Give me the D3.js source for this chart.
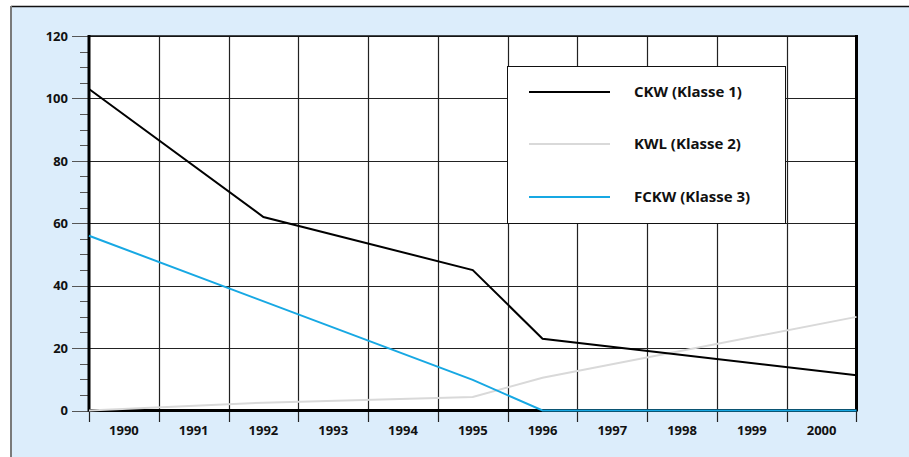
<!DOCTYPE html>
<html><head><meta charset="utf-8">
<script src="https://cdn.jsdelivr.net/npm/d3@7/dist/d3.min.js"></script>
<style>html,body{margin:0;padding:0;background:#fff;}svg{display:block;}</style>
</head><body><div id="chart"></div>
<script>
const years = [1990,1991,1992,1993,1994,1995,1996,1997,1998,1999,2000];
const yTicks = [0,20,40,60,80,100,120];
// series: x positions (years, band centres; .5 = band edges) and values
const ckwX = [1989.5, 1992, 1995, 1996, 2000.5];
const ckwY = [103, 62, 45, 23, 11.3];
const kwlX = [1989.5, 1992, 1995, 1996, 2000.5];
const kwlY = [0, 2.5, 4.3, 10.5, 30];
const fckwX = [1989.5, 1995, 1996, 2000.5];
const fckwY = [56, 9.8, 0, 0];
const seriesNames = ["CKW (Klasse 1)", "KWL (Klasse 2)", "FCKW (Klasse 3)"];
const seriesColors = ["#000000", "#d9d9d9", "#17a8e3"];

const W = 909, H = 457;
const svg = d3.select("#chart").append("svg").attr("width", W).attr("height", H);
const font = "'Open Sans', 'DejaVu Sans', sans-serif";

// panel background
svg.append("rect").attr("x", 11).attr("y", 6).attr("width", W - 11).attr("height", H - 6).attr("fill", "#dcedfb");
svg.append("line").attr("x1", 11).attr("x2", W).attr("y1", 6.5).attr("y2", 6.5).attr("stroke", "#111").attr("stroke-width", 1.5);
svg.append("line").attr("x1", 11).attr("x2", 11).attr("y1", 6).attr("y2", H).attr("stroke", "#7a7a7a").attr("stroke-width", 2);

const x0 = 89, x1 = 856.5, y0 = 410.5, y1 = 36;
const band = d3.scaleBand().domain(years).range([x0, x1]).padding(0);
const x = d3.scaleLinear().domain([1989.5, 2000.5]).range([x0, x1]);
const y = d3.scaleLinear().domain([0, 120]).range([y0, y1]);

// plot area
svg.append("rect").attr("x", x0).attr("y", y1).attr("width", x1 - x0).attr("height", y0 - y1).attr("fill", "#fff");

// gridlines
const g = svg.append("g");
g.selectAll(".hg").data(yTicks.filter(d => d > 0)).join("line")
  .attr("x1", x0).attr("x2", x1).attr("y1", d => Math.round(y(d)) + 0.5).attr("y2", d => Math.round(y(d)) + 0.5)
  .attr("stroke", "#222").attr("stroke-width", 1.2);
const bounds = d3.range(1, years.length).map(i => band(years[i]));
g.selectAll(".vg").data(bounds).join("line")
  .attr("x1", d => Math.round(d) + 0.5).attr("x2", d => Math.round(d) + 0.5).attr("y1", y1).attr("y2", y0)
  .attr("stroke", "#222").attr("stroke-width", 1.2);

// y axis ticks
const minor = d3.range(0, 121, 5).filter(d => d % 20 !== 0);
svg.append("g").selectAll("line").data(minor).join("line")
  .attr("x1", 80).attr("x2", x0).attr("y1", d => Math.round(y(d)) + 0.5).attr("y2", d => Math.round(y(d)) + 0.5)
  .attr("stroke", "#555").attr("stroke-width", 1);
svg.append("g").selectAll("line").data(yTicks).join("line")
  .attr("x1", 72).attr("x2", x0).attr("y1", d => Math.round(y(d)) + 0.5).attr("y2", d => Math.round(y(d)) + 0.5)
  .attr("stroke", "#555").attr("stroke-width", 1);
svg.append("g").selectAll("text").data(yTicks).join("text")
  .attr("x", 68).attr("y", d => y(d)).attr("dy", "0.36em").attr("text-anchor", "end")
  .attr("font-family", font).attr("font-weight", "bold").attr("font-size", 13).attr("fill", "#111")
  .text(d => d);

// x axis ticks & labels
const xb = d3.range(0, years.length + 1).map(i => x0 + i * band.bandwidth());
svg.append("g").selectAll("line").data(xb).join("line")
  .attr("x1", d => Math.round(d) + 0.5).attr("x2", d => Math.round(d) + 0.5).attr("y1", y0).attr("y2", 422)
  .attr("stroke", "#222").attr("stroke-width", 1.2);
svg.append("g").selectAll("text").data(years).join("text")
  .attr("x", d => band(d) + band.bandwidth() / 2).attr("y", 435).attr("text-anchor", "middle")
  .attr("font-family", font).attr("font-weight", "bold").attr("font-size", 13).attr("fill", "#111")
  .text(d => d);

// frame
svg.append("line").attr("x1", x0).attr("x2", x1).attr("y1", y1).attr("y2", y1).attr("stroke", "#111").attr("stroke-width", 1.5);
svg.append("line").attr("x1", x0).attr("x2", x0).attr("y1", y1 - 1).attr("y2", y0 + 1).attr("stroke", "#000").attr("stroke-width", 3);
svg.append("line").attr("x1", x1).attr("x2", x1).attr("y1", y1 - 1).attr("y2", y0 + 1).attr("stroke", "#000").attr("stroke-width", 3);
svg.append("line").attr("x1", x0).attr("x2", x1).attr("y1", y0).attr("y2", y0).attr("stroke", "#000").attr("stroke-width", 3);

// legend
const lg = svg.append("g");
lg.append("rect").attr("x", 507.5).attr("y", 66.5).attr("width", 278).attr("height", 157)
  .attr("fill", "#fff").attr("stroke", "#111").attr("stroke-width", 1);
const legY = [92, 144, 197];
seriesNames.forEach((n, i) => {
  lg.append("line").attr("x1", 529).attr("x2", 610).attr("y1", legY[i]).attr("y2", legY[i])
    .attr("stroke", seriesColors[i]).attr("stroke-width", 2);
  lg.append("text").attr("x", 634).attr("y", legY[i]).attr("dy", "0.36em")
    .attr("font-family", font).attr("font-weight", "bold").attr("font-size", 15).attr("fill", "#111").text(n);
});

// lines
const line = d3.line().x(d => x(d[0])).y(d => y(d[1]));
const series = [d3.zip(ckwX, ckwY), d3.zip(kwlX, kwlY), d3.zip(fckwX, fckwY)];
[1, 0, 2].forEach(i => {
  svg.append("path").datum(series[i]).attr("d", line).attr("fill", "none")
    .attr("stroke", seriesColors[i]).attr("stroke-width", 2).attr("stroke-linejoin", "miter");
});
</script></body></html>
